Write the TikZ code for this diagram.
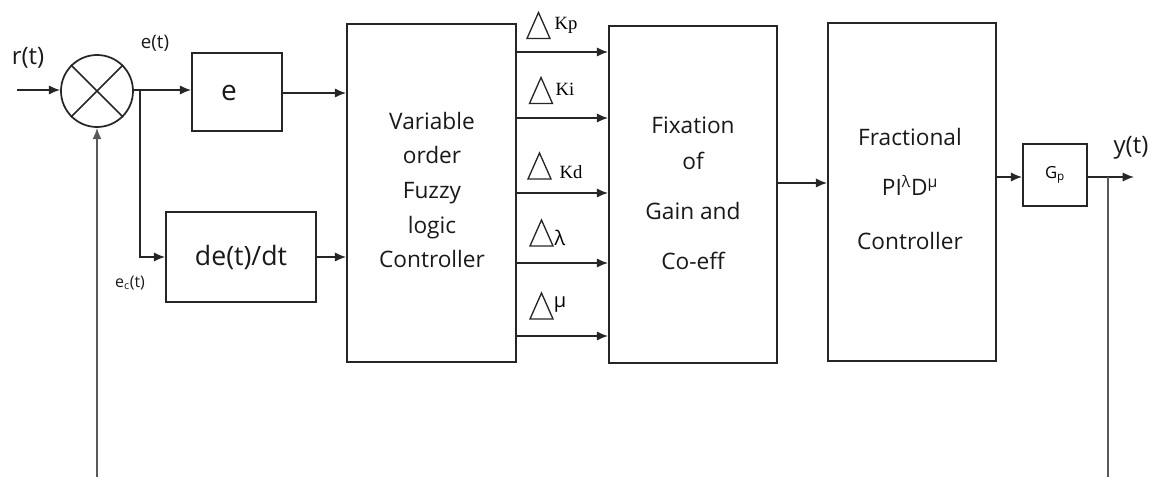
\documentclass[tikz,border=0pt]{standalone}
\usepackage{fontspec}
\setmainfont{Open Sans}
\newfontfamily\serifK{Liberation Serif}
\usetikzlibrary{arrows.meta,calc}
\tikzset{
  ln/.style={line width=1.3pt, draw=black!85},
  arr/.style={ln, -{Latex[length=8.5pt,width=7pt]}},
  fb/.style={line width=1.5pt, draw=black!65},
  box/.style={ln, rectangle, inner sep=0pt, align=center},
  txt/.style={font=\fontsize{17}{26}\selectfont, align=center, inner sep=0pt, text=black!90},
  lbl/.style={inner sep=0pt, text=black!90},
  dl/.style={inner sep=0pt, font=\serifK\fontsize{14}{16}\selectfont},
  dls/.style={inner sep=0pt, font=\fontsize{15}{16}\selectfont},
  deltri/.pic={\draw[line width=1pt, draw=black!85] (-11.5,13) -- (11.5,13) -- (0,-13) -- cycle;}
}
\begin{document}
\begin{tikzpicture}[x=0.75pt, y=-0.75pt]
\useasboundingbox (0,0) rectangle (1156,477);
% blocks
\node[ln, circle, minimum size=54pt, inner sep=0pt] (sum) at (97,91) {};
\draw[ln] (sum.north west) -- (sum.south east) (sum.north east) -- (sum.south west);
\node[box, minimum width=67.5pt, minimum height=58.5pt] (ebox) at (237,92) {};
\node[lbl, font=\fontsize{21}{24}\selectfont] (etxt) at (229,93) {e};
\node[box, minimum width=112.5pt, minimum height=67.5pt, font=\fontsize{20}{24}\selectfont, text=black!90] (debox) at (241,257) {de(t)/dt};
\node[box, minimum width=126.75pt, minimum height=253.5pt] (vflc) at (431.5,193) {};
\node[txt] (vflct) at (432,190) {Variable\\order\\Fuzzy\\logic\\Controller};
\node[box, minimum width=126pt, minimum height=252.75pt] (fix) at (693,194.5) {};
\node[txt] (fixt) at (693,193) {Fixation\\[1pt]of\\[11.5pt]Gain and\\[11.5pt]Co-eff};
\node[box, minimum width=126pt, minimum height=253.5pt] (frac) at (912,192) {};
\node[txt] (fract) at (910,189) {Fractional\\[11.5pt]PI\textsuperscript{λ}D\textsuperscript{μ}\\[14.5pt]Controller};
\node[box, minimum width=48pt, minimum height=46.5pt, font=\fontsize{12.5}{14}\selectfont] (gp) at (1055,175) {G\textsubscript{p}};
% labels
\node[lbl, font=\fontsize{18}{20}\selectfont] (rt) at (28,58) {r(t)};
\node[lbl, font=\fontsize{14}{16}\selectfont] (et) at (155,43) {e(t)};
\node[lbl, font=\fontsize{12}{14}\selectfont] (ect) at (130,283) {e\textsubscript{c}(t)};
\node[lbl, font=\fontsize{18}{20}\selectfont] (yt) at (1131,148) {y(t)};
% coordinates
\coordinate (in) at (17,90);
\coordinate (br) at (140,90);
\coordinate (out) at (1134,177);
\coordinate (yb) at (1108,177);
\coordinate (fbl) at (97,477);
\coordinate (fbr) at (1108,477);
% connectors
\draw[arr] (in) -- (in -| sum.west);
\draw[ln] (sum.east |- br) -- (br);
\draw[arr] (br) -- (br -| ebox.west);
\draw[arr] (br) |- (debox.west);
\draw[arr] (ebox.east |- 0,93) -- (vflc.west |- 0,93);
\draw[arr] (debox.east) -- (debox.east -| vflc.west);
\foreach \yy in {52,118,193,263,336}
  \draw[arr] (vflc.east |- 0,\yy) -- (fix.west |- 0,\yy);
\draw[arr] (fix.east |- 0,183) -- (frac.west |- 0,183);
\draw[arr] (frac.east |- 0,177) -- (gp.west |- 0,177);
\draw[arr] (gp.east |- out) -- (out);
\draw[fb] (yb) -- (fbr);
\draw[fb, -{Latex[length=8.5pt,width=7pt]}] (fbl) -- (sum.south);
% delta labels
\pic at (538.5,25.5) {deltri};
\node[dl] (lkp) at (566,25) {Kp};
\pic at (541,90.5) {deltri};
\node[dl] (lki) at (565,89) {Ki};
\pic at (539.5,166) {deltri};
\node[dl] (lkd) at (571,172) {Kd};
\pic at (541.5,233) {deltri};
\node[dls] (llam) at (560,238) {λ};
\pic at (541.5,306) {deltri};
\node[dls] (lmu) at (560,305) {μ};
\end{tikzpicture}
\end{document}
